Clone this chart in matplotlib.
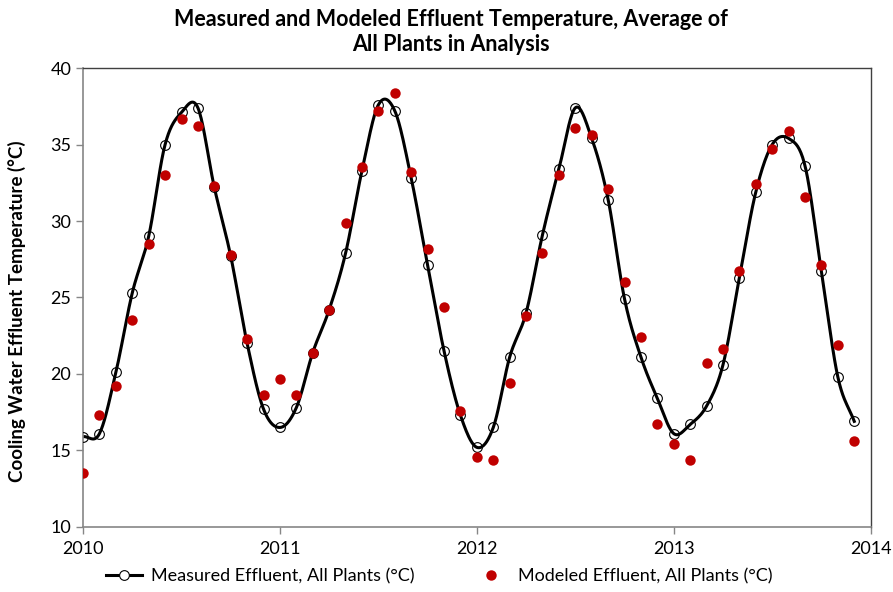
import numpy as np
import matplotlib
matplotlib.use("Agg")
import matplotlib.pyplot as plt
from matplotlib.lines import Line2D

# monthly samples, Jan 2010 .. Dec 2013
years = [2010, 2011, 2012, 2013]
measured = [
    15.9, 16.1, 20.1, 25.3, 29.0, 35.0, 37.1, 37.4, 32.2, 27.7, 22.0, 17.7,
    16.5, 17.8, 21.4, 24.2, 27.9, 33.3, 37.6, 37.2, 32.8, 27.1, 21.5, 17.3,
    15.2, 16.5, 21.1, 24.0, 29.1, 33.4, 37.4, 35.4, 31.4, 24.9, 21.1, 18.4,
    16.1, 16.7, 17.9, 20.6, 26.3, 31.9, 35.0, 35.4, 33.6, 26.7, 19.8, 16.9,
]
modeled = [
    13.5, 17.3, 19.2, 23.5, 28.5, 33.0, 36.7, 36.2, 32.3, 27.8, 22.3, 18.6,
    19.7, 18.6, 21.4, 24.2, 29.9, 33.5, 37.2, 38.4, 33.2, 28.2, 24.4, 17.6,
    14.6, 14.4, 19.4, 23.8, 27.9, 33.0, 36.1, 35.6, 32.1, 26.0, 22.4, 16.7,
    15.4, 14.4, 20.7, 21.6, 26.7, 32.4, 34.7, 35.9, 31.6, 27.1, 21.9, 15.6,
]

x = years[0] + np.arange(len(measured)) / 12.0


def smooth_line(xs, ys, n=20):
    # Catmull-Rom curve through the points (like Excel's "smoothed line")
    xs = np.asarray(xs, float)
    ys = np.asarray(ys, float)
    px = np.concatenate([[2 * xs[0] - xs[1]], xs, [2 * xs[-1] - xs[-2]]])
    py = np.concatenate([[2 * ys[0] - ys[1]], ys, [2 * ys[-1] - ys[-2]]])
    t = np.linspace(0, 1, n, endpoint=False)
    outx, outy = [], []
    for i in range(1, len(px) - 2):
        for p, out in ((px, outx), (py, outy)):
            p0, p1, p2, p3 = p[i - 1], p[i], p[i + 1], p[i + 2]
            out.extend(0.5 * (2 * p1 + (-p0 + p2) * t
                              + (2 * p0 - 5 * p1 + 4 * p2 - p3) * t ** 2
                              + (-p0 + 3 * p1 - 3 * p2 + p3) * t ** 3))
    outx.append(xs[-1])
    outy.append(ys[-1])
    return np.array(outx), np.array(outy)


plt.rcParams['font.family'] = ['Lato', 'DejaVu Sans']

fig = plt.figure(figsize=(8.93, 5.92), dpi=100)
ax = fig.add_axes([0.093, 0.110, 0.882, 0.775])

sx, sy = smooth_line(x, measured)
ax.plot(sx, sy, color='black', linewidth=2.2, zorder=2)
ax.plot(x, measured, linestyle='none', marker='o', markersize=7,
        markerfacecolor='none', markeredgecolor='black', markeredgewidth=0.8, zorder=3)
ax.plot(x, modeled, linestyle='none', marker='o', markersize=7.5,
        color='#C00000', markeredgewidth=0, zorder=4)

ax.set_xlim(2010, 2014)
ax.set_ylim(10, 40)
ax.set_xticks([2010, 2011, 2012, 2013, 2014])
ax.set_xticklabels(['2010', '2011', '2012', '2013', '2014'])
ax.set_yticks(range(10, 41, 5))
ax.tick_params(axis='both', labelsize=13, colors='#868686', labelcolor='black',
               length=5, width=1, direction='out')
ax.tick_params(axis='x', pad=5)

for side in ['left', 'bottom']:
    ax.spines[side].set_color('#868686')
    ax.spines[side].set_linewidth(1.2)
for side in ['top', 'right']:
    ax.spines[side].set_color('#404040')
    ax.spines[side].set_linewidth(1.0)

ax.set_ylabel('Cooling Water Effluent Temperature (°C)', fontsize=13.5,
              fontweight='bold')
ax.yaxis.set_label_coords(-0.072, 0.47)
fig.text(0.505, 0.985, 'Measured and Modeled Effluent Temperature, Average of\nAll Plants in Analysis',
         fontsize=15.5, fontweight='bold', ha='center', va='top', linespacing=1.25)

handles = [
    Line2D([], [], color='black', linewidth=2.2, marker='o', markersize=7,
           markerfacecolor='white', markeredgecolor='black', markeredgewidth=0.8),
    Line2D([], [], linestyle='none', marker='o', markersize=7.5,
           color='#C00000', markeredgewidth=0),
]
fig.legend(handles, ['Measured Effluent, All Plants (°C)', 'Modeled Effluent, All Plants (°C)'],
           loc='lower center', bbox_to_anchor=(0.492, -0.015), ncol=2, frameon=False,
           fontsize=13, handlelength=2, columnspacing=3.2, handletextpad=0.5)

fig.savefig('out.png', dpi=100)
